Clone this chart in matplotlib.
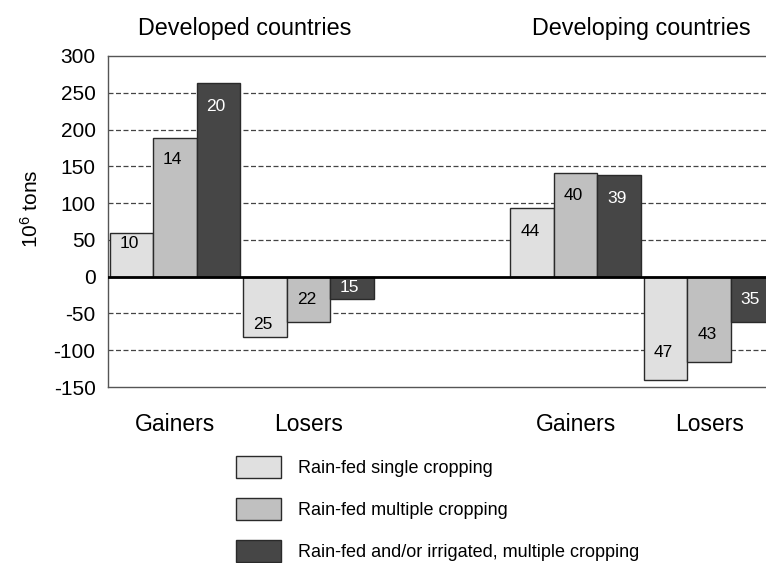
import matplotlib
matplotlib.use('Agg')
import matplotlib.pyplot as plt
import numpy as np

plt.rcParams['font.family'] = ['Liberation Sans', 'DejaVu Sans']
plt.rcParams['mathtext.fontset'] = 'custom'
plt.rcParams['mathtext.rm'] = 'Liberation Sans'
plt.rcParams['axes.unicode_minus'] = False

# データ
categories = ['Gainers', 'Losers', 'Gainers', 'Losers']
group_titles = ['Developed countries', 'Developing countries']
series_names = ['Rain-fed single cropping',
                'Rain-fed multiple cropping',
                'Rain-fed and/or irrigated, multiple cropping']
single = [60, -82, 93, -141]
multiple = [189, -62, 141, -116]
irrigated = [263, -31, 138, -62]
single_n = [10, 25, 44, 47]
multiple_n = [14, 22, 40, 43]
irrigated_n = [20, 15, 39, 35]

# スタイル
colors = ['#e0e0e0', '#c0c0c0', '#464646']
text_colors = ['black', 'black', 'white']
# ラベルの内側へのずれ（ピクセル）
label_inset = [[11, 12, 23, 28], [22, 23, 23, 27], [23, 12, 23, 23]]

x = np.array([0, 1, 3, 4])
w = 0.325

fig = plt.figure(figsize=(7.66, 5.63), dpi=100)
ax = fig.add_axes([0.141, 0.3126, 0.872, 0.588])

series = [single, multiple, irrigated]
counts = [single_n, multiple_n, irrigated_n]
handles = []
for i, (vals, ns) in enumerate(zip(series, counts)):
    xs = x + (i - 1) * w
    b = ax.bar(xs, vals, width=w, color=colors[i], edgecolor='#2a2a2a',
               linewidth=1.0, zorder=3, label=series_names[i])
    handles.append(b)
    for xi, v, n, inset in zip(xs, vals, ns, label_inset[i]):
        off = -inset if v > 0 else inset
        ax.annotate(str(n), (xi, v), xytext=(-1.5, off * 0.72),
                    textcoords='offset points', ha='center', va='center',
                    fontsize=12.5, color=text_colors[i], zorder=4)

ax.set_xlim(-0.5, 4.5)
ax.set_ylim(-150, 300)
ax.set_yticks(np.arange(-150, 301, 50))
for yv in [-100, -50, 50, 100, 150, 200, 250]:
    ax.axhline(yv, color='#444444', linestyle=(0, (4, 2)), linewidth=0.9, zorder=1)
ax.axhline(0, color='black', linewidth=2, zorder=5)

ax.set_xticks(x)
ax.set_xticklabels(categories, fontsize=16.5)
ax.tick_params(axis='x', length=0, pad=19)
ax.tick_params(axis='y', length=0, pad=9, labelsize=15)
ax.set_ylabel(r'$\mathregular{10^6}$ tons', fontsize=15)
ax.yaxis.set_label_coords(-0.099, 0.54)

for s in ['top', 'bottom', 'left']:
    ax.spines[s].set_color('#555555')
    ax.spines[s].set_linewidth(1)
ax.spines['right'].set_visible(False)

# グループタイトル
fig.text(245 / 766, 1 - 29 / 563, group_titles[0], ha='center', va='center', fontsize=16.8)
fig.text(641 / 766, 1 - 29 / 563, group_titles[1], ha='center', va='center', fontsize=16.8)

fig.legend(handles=handles, labels=series_names, loc='upper left',
           bbox_to_anchor=(236 / 766, 1 - 456 / 563), frameon=False,
           fontsize=13, handlelength=2.5, handleheight=1.5,
           handletextpad=0.95, labelspacing=1.1, borderpad=0, borderaxespad=0)

fig.savefig('out.png', dpi=100)
